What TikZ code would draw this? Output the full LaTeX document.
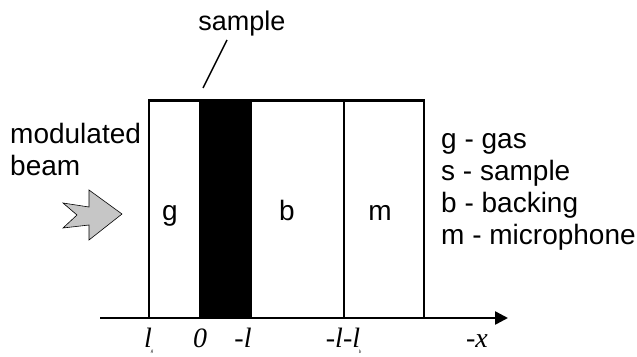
\documentclass[tikz,border=0pt]{standalone}
\usepackage{fontspec}
\setmainfont{Liberation Serif}
\setsansfont{Liberation Sans}
\usetikzlibrary{arrows.meta}
\begin{document}
\begin{tikzpicture}[x=1pt,y=-1pt,
  lbl/.style={font=\fontsize{28}{32}\selectfont\sffamily, inner sep=0pt, align=left},
  toplbl/.style={font=\fontsize{27}{30}\selectfont\sffamily, inner sep=0pt, align=center},
  ax/.style={font=\fontsize{28}{28}\selectfont\rmfamily\itshape, inner sep=0pt},
  sub/.style={font=\fontsize{5}{5}\selectfont\rmfamily\itshape, inner sep=0pt},
  region/.style={draw, line width=2pt, minimum height=217, inner sep=0pt, anchor=north west},
  beam/.style={draw=black, line width=0.6pt, fill=gray!45}]
\useasboundingbox (0,0) rectangle (637,356);

% layers
\node[region, minimum width=51] (gas) at (148,100) {};
\node[region, minimum width=51, fill=black] (smp) at (199,100) {};
\node[region, minimum width=93] (bck) at (250,100) {};
\node[region, minimum width=80] (mic) at (343,100) {};
\draw[line width=3pt] (gas.north west) -- (mic.north east);

% region letters
\node[lbl, anchor=base] (gl) at (170,220) {g};
\node[lbl, anchor=base] (bl) at (287,220) {b};
\node[lbl, anchor=base] (ml) at (380,220) {m};

% axis
\coordinate (axl) at (100,318);
\coordinate (axr) at (508,318);
\draw[line width=2.5pt, -{Triangle[length=13pt,width=13pt]}] (axl) -- (axr);

\node[ax, anchor=base] (x1) at (148,347) {l};
\node[sub] (x1s) at (152,352) {g};
\node[ax, anchor=base] (x2) at (200,347) {0};
\node[ax, anchor=base] (x3) at (243,347) {-l};
\node[ax, anchor=base] (x4) at (343,347) {-l-l};
\node[sub] (x4s) at (360,352) {b};
\node[ax, anchor=base] (x5) at (477,347) {-x};

% sample label
\node[toplbl, anchor=base] (stxt) at (242,30) {sample};
\coordinate (st) at (227,40);
\coordinate (sb) at (203,88);
\draw[line width=1.5pt] (st) -- (sb);

% beam label
\node[lbl, anchor=base west] (mod) at (10,143) {modulated};
\node[lbl, anchor=base west] (bm) at (10,175) {beam};

% beam arrow
\draw[beam] (63,203) -- (89,207) -- (89,190) -- (122,214) -- (89,240) -- (89,225) -- (63,228) -- (77,215) -- cycle;

% legend
\node[lbl, anchor=base west] (lg1) at (441,148) {g - gas};
\node[lbl, anchor=base west] (lg2) at (441,180) {s - sample};
\node[lbl, anchor=base west] (lg3) at (441,212) {b - backing};
\node[lbl, anchor=base west] (lg4) at (441,244) {m - microphone};
\end{tikzpicture}
\end{document}
